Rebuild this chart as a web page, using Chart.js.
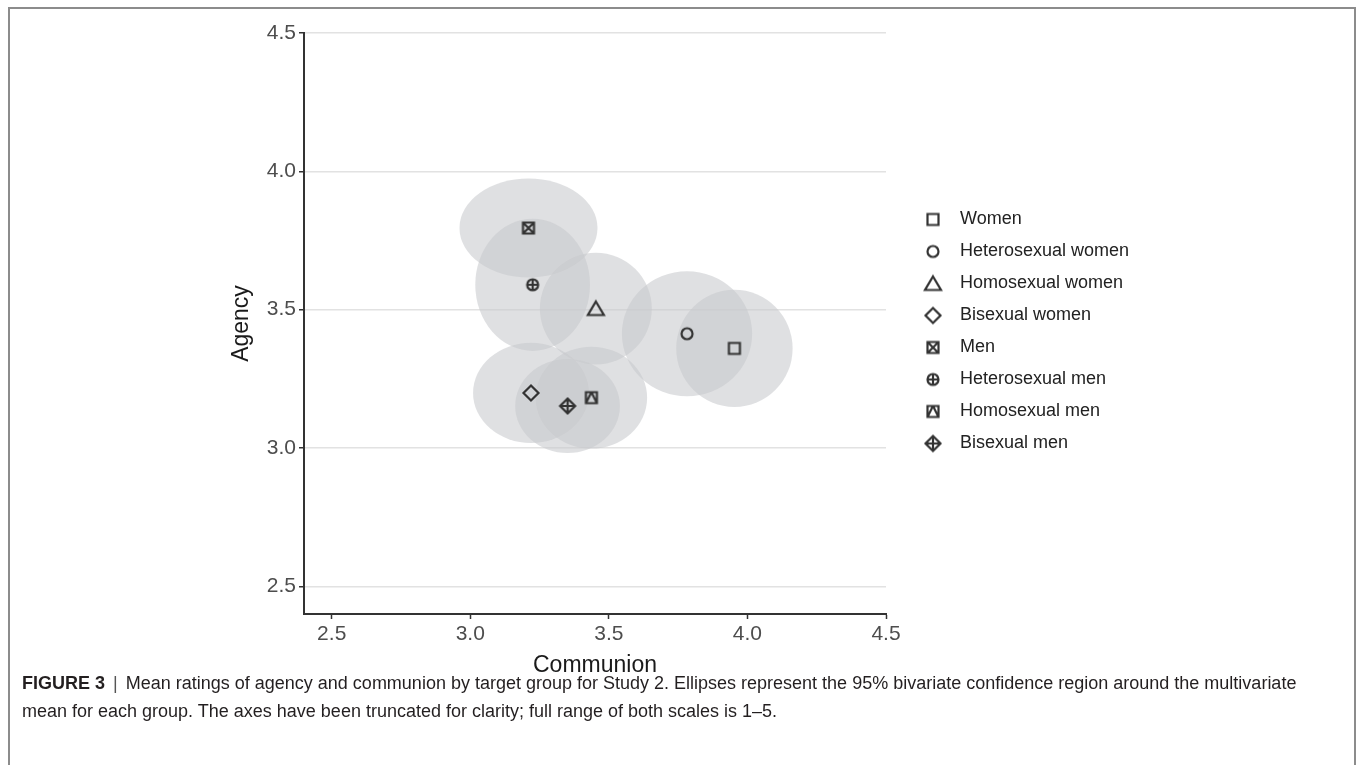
<!DOCTYPE html>
<html lang="en">
<head>
    <meta charset="UTF-8">
    <title>Figure 3 - Agency and Communion</title>
    <script src="https://cdn.jsdelivr.net/npm/chart.js"></script>
    <style>
        body { margin: 0; background: #fff; font-family: 'Liberation Sans', Arial, Helvetica, sans-serif; }
        #frame { position: absolute; left: 8px; top: 7px; width: 1344px; height: 800px; border: 2px solid #8c8c8c; border-bottom: none; }
        #wrap { position: absolute; left: 0; top: 0; width: 1357px; height: 680px; }
        #caption { position: absolute; left: 22px; top: 669px; font-size: 18px; line-height: 28px; color: #231f20; white-space: nowrap; }
        #caption .bar { color: #555; font-weight: 300; padding: 0 3px; }
    </style>
</head>
<body>
    <div id="frame"></div>
    <div id="wrap"><canvas id="agencyChart"></canvas></div>
    <div id="caption"><b>FIGURE 3</b> <span class="bar">|</span> Mean ratings of agency and communion by target group for Study 2. Ellipses represent the 95% bivariate confidence region around the multivariate<br>mean for each group. The axes have been truncated for clarity; full range of both scales is 1–5.</div>
    <script>
        const groups = ['Women', 'Heterosexual women', 'Homosexual women', 'Bisexual women', 'Men', 'Heterosexual men', 'Homosexual men', 'Bisexual men'];
        const communion = [3.953, 3.782, 3.453, 3.219, 3.210, 3.225, 3.437, 3.351];
        const agency = [3.360, 3.413, 3.504, 3.199, 3.795, 3.590, 3.182, 3.152];
        // half-widths of the confidence ellipses, in scale units
        const ellipseComm = [0.210, 0.235, 0.202, 0.209, 0.249, 0.207, 0.201, 0.189];
        const ellipseAgen = [0.212, 0.226, 0.202, 0.181, 0.179, 0.239, 0.184, 0.170];
        const shapes = ['square', 'circle', 'triangle', 'diamond', 'squareX', 'circlePlus', 'squareTri', 'diamondPlus'];
        const xTicks = [2.5, 3.0, 3.5, 4.0, 4.5];
        const yTicks = [2.5, 3.0, 3.5, 4.0, 4.5];

        const ink = '#333333';
        Chart.defaults.font.family = "'Liberation Sans', Arial, Helvetica, sans-serif";

        function marker(kind) {
            const c = document.createElement('canvas');
            c.width = 22; c.height = 22;
            const g = c.getContext('2d');
            g.translate(11, 11);
            g.strokeStyle = ink;
            g.lineWidth = 2.2;
            const s = 5.5, d = 7.5;
            g.beginPath();
            if (kind.startsWith('square')) g.rect(-s, -s, 2 * s, 2 * s);
            if (kind.startsWith('circle')) g.arc(0, 0, s, 0, Math.PI * 2);
            if (kind.startsWith('diamond')) { g.moveTo(0, -d); g.lineTo(d, 0); g.lineTo(0, d); g.lineTo(-d, 0); g.closePath(); }
            if (kind === 'triangle') { g.moveTo(0, -7); g.lineTo(8, 6.5); g.lineTo(-8, 6.5); g.closePath(); }
            if (kind === 'squareX') { g.moveTo(-s, -s); g.lineTo(s, s); g.moveTo(s, -s); g.lineTo(-s, s); }
            if (kind === 'squareTri') { g.moveTo(0, -s); g.lineTo(s, s); g.moveTo(0, -s); g.lineTo(-s, s); }
            if (kind === 'circlePlus') { g.moveTo(-s, 0); g.lineTo(s, 0); g.moveTo(0, -s); g.lineTo(0, s); }
            if (kind === 'diamondPlus') { g.moveTo(-d, 0); g.lineTo(d, 0); g.moveTo(0, -d); g.lineTo(0, d); }
            g.stroke();
            return c;
        }

        const ellipses = {
            id: 'ellipses',
            beforeDatasetsDraw(chart) {
                const { ctx, chartArea, scales: { x, y } } = chart;
                ctx.save();
                ctx.beginPath();
                ctx.rect(chartArea.left, chartArea.top, chartArea.width, chartArea.height);
                ctx.clip();
                ctx.fillStyle = 'rgba(200, 202, 205, 0.58)';
                groups.forEach((_, i) => {
                    const cx = x.getPixelForValue(communion[i]);
                    const cy = y.getPixelForValue(agency[i]);
                    const rx = Math.abs(x.getPixelForValue(communion[i] + ellipseComm[i]) - cx);
                    const ry = Math.abs(y.getPixelForValue(agency[i] + ellipseAgen[i]) - cy);
                    ctx.beginPath();
                    ctx.ellipse(cx, cy, rx, ry, 0, 0, Math.PI * 2);
                    ctx.fill();
                });
                ctx.restore();
            }
        };

        // keep the legend a little away from the panel
        const legendGap = {
            id: 'legendGap',
            afterLayout(chart) {
                const l = chart.legend;
                l.left = chart.chartArea.right + 15;
                l.right = l.left + 300;
                l.top += 8; l.bottom += 8;
            }
        };

        const ctx = document.getElementById('agencyChart').getContext('2d');
        new Chart(ctx, {
            type: 'scatter',
            data: {
                datasets: groups.map((g, i) => ({
                    label: g,
                    data: [{ x: communion[i], y: agency[i] }],
                    pointStyle: marker(shapes[i]),
                    pointRadius: 7,
                    borderColor: ink,
                    backgroundColor: ink
                }))
            },
            options: {
                responsive: true,
                maintainAspectRatio: false,
                animation: false,
                events: [],
                layout: { padding: { left: 226, top: 33, right: 251, bottom: 0 } },
                scales: {
                    x: {
                        min: 2.4, max: 4.5,
                        afterBuildTicks: s => { s.ticks = xTicks.map(v => ({ value: v })); },
                        afterFit: s => { s.height = 66; },
                        ticks: { callback: v => v.toFixed(1), color: '#4d4d4d', font: { size: 21 }, padding: 3, maxRotation: 0 },
                        grid: { drawOnChartArea: false, tickLength: 5, tickColor: ink, tickWidth: 1.5 },
                        border: { color: ink, width: 2 },
                        title: { display: true, text: 'Communion', color: '#1a1a1a', font: { size: 23 }, padding: { top: 0, bottom: 1 } }
                    },
                    y: {
                        min: 2.4, max: 4.5,
                        afterBuildTicks: s => { s.ticks = yTicks.map(v => ({ value: v })); },
                        afterFit: s => { s.width = 78; },
                        ticks: { callback: v => v.toFixed(1), color: '#4d4d4d', font: { size: 21 }, padding: 3 },
                        grid: { color: '#e2e2e2', lineWidth: 1.5, tickLength: 5, tickColor: ink, tickWidth: 1.5 },
                        border: { color: ink, width: 2 },
                        title: { display: true, text: 'Agency', color: '#1a1a1a', font: { size: 23 }, padding: { top: 2, bottom: 0 } }
                    }
                },
                plugins: {
                    legend: {
                        position: 'right',
                        fullSize: false,
                        labels: { usePointStyle: true, pointStyleWidth: 36, padding: 14, color: '#222', font: { size: 18 } }
                    },
                    tooltip: { enabled: false }
                }
            },
            plugins: [ellipses, legendGap]
        });
    </script>
</body>
</html>
